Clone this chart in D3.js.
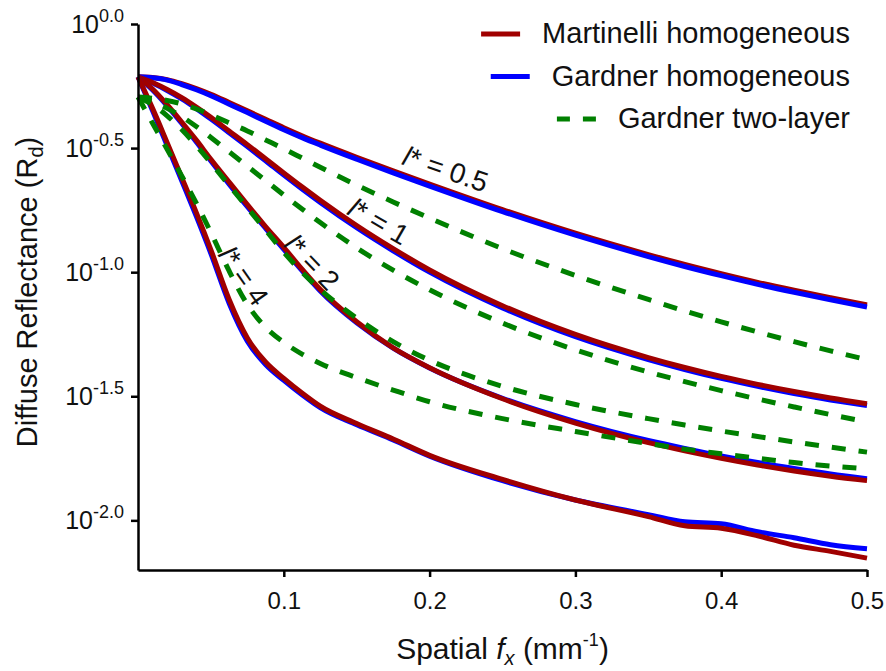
<!DOCTYPE html>
<html>
<head>
<meta charset="utf-8">
<script src="https://cdn.jsdelivr.net/npm/d3@7"></script>
<style>
  body { margin: 0; background: #fff; }
  svg { font-family: 'Liberation Sans', Arial, sans-serif; }
</style>
</head>
<body>
<svg width="886" height="671"></svg>
<script>
// spatial frequency samples (mm^-1)
const fx = [0, 0.01, 0.02, 0.03, 0.04, 0.05, 0.0625, 0.075, 0.0875, 0.1, 0.1125, 0.125, 0.15, 0.175, 0.2, 0.25, 0.3, 0.35, 0.375, 0.4, 0.425, 0.45, 0.475, 0.5]

// log10 of diffuse reflectance
const martinelli05 = [-0.213, -0.216, -0.224, -0.240, -0.260, -0.283, -0.316, -0.350, -0.384, -0.418, -0.450, -0.480, -0.537, -0.592, -0.645, -0.748, -0.843, -0.929, -0.969, -1.006, -1.041, -1.073, -1.103, -1.132]
const gardner05 = [-0.213, -0.217, -0.226, -0.244, -0.265, -0.289, -0.323, -0.357, -0.392, -0.426, -0.458, -0.488, -0.545, -0.600, -0.653, -0.756, -0.851, -0.937, -0.977, -1.014, -1.049, -1.081, -1.111, -1.140]
const twoLayer05 = [-0.294, -0.299, -0.308, -0.322, -0.342, -0.366, -0.398, -0.431, -0.467, -0.503, -0.540, -0.577, -0.649, -0.717, -0.782, -0.905, -1.013, -1.110, -1.156, -1.200, -1.241, -1.280, -1.317, -1.353]

const martinelli1 = [-0.213, -0.236, -0.264, -0.297, -0.335, -0.376, -0.431, -0.486, -0.543, -0.600, -0.656, -0.710, -0.812, -0.905, -0.991, -1.135, -1.251, -1.344, -1.384, -1.420, -1.452, -1.481, -1.507, -1.530]
const gardner1 = [-0.213, -0.238, -0.268, -0.302, -0.341, -0.383, -0.438, -0.494, -0.551, -0.609, -0.665, -0.719, -0.821, -0.914, -1.000, -1.144, -1.260, -1.352, -1.392, -1.428, -1.460, -1.489, -1.515, -1.537]
const twoLayer1 = [-0.294, -0.312, -0.340, -0.373, -0.413, -0.457, -0.515, -0.573, -0.631, -0.689, -0.745, -0.800, -0.902, -0.992, -1.071, -1.205, -1.313, -1.402, -1.441, -1.477, -1.511, -1.543, -1.574, -1.603]

const martinelli2 = [-0.213, -0.262, -0.325, -0.395, -0.468, -0.545, -0.637, -0.728, -0.816, -0.900, -0.988, -1.070, -1.200, -1.305, -1.385, -1.510, -1.608, -1.687, -1.720, -1.750, -1.777, -1.801, -1.822, -1.840]
const gardner2 = [-0.213, -0.266, -0.330, -0.401, -0.475, -0.552, -0.645, -0.736, -0.823, -0.908, -0.994, -1.076, -1.204, -1.306, -1.386, -1.508, -1.602, -1.678, -1.710, -1.740, -1.767, -1.791, -1.813, -1.832]
const twoLayer2 = [-0.294, -0.325, -0.370, -0.425, -0.490, -0.560, -0.650, -0.740, -0.830, -0.920, -1.000, -1.070, -1.185, -1.280, -1.355, -1.460, -1.533, -1.590, -1.616, -1.640, -1.662, -1.684, -1.705, -1.725]

const martinelli4 = [-0.213, -0.340, -0.478, -0.618, -0.760, -0.910, -1.110, -1.265, -1.362, -1.428, -1.487, -1.540, -1.610, -1.672, -1.738, -1.835, -1.918, -1.985, -2.022, -2.032, -2.062, -2.100, -2.125, -2.152]
const gardner4 = [-0.213, -0.350, -0.490, -0.632, -0.775, -0.925, -1.125, -1.278, -1.372, -1.436, -1.494, -1.546, -1.615, -1.676, -1.741, -1.840, -1.918, -1.977, -2.006, -2.014, -2.046, -2.070, -2.098, -2.114]
const twoLayer4 = [-0.294, -0.400, -0.505, -0.612, -0.722, -0.840, -0.995, -1.130, -1.222, -1.283, -1.330, -1.368, -1.425, -1.475, -1.522, -1.590, -1.642, -1.690, -1.713, -1.732, -1.750, -1.767, -1.781, -1.792]

const xTicks = [0.1, 0.2, 0.3, 0.4, 0.5]
const yTicks = [0, -0.5, -1, -1.5, -2]
const yTickLabels = ['0.0', '-0.5', '-1.0', '-1.5', '-2.0']

const legendLabels = ['Martinelli homogeneous', 'Gardner homogeneous', 'Gardner two-layer']

// curve annotations: l* value, anchor (fx, log10 Rd), rotation
const curveLabels = [
  {text: '0.5', fx: 0.211, v: -0.584, angle: 19},
  {text: '1', fx: 0.165, v: -0.795, angle: 30},
  {text: '2', fx: 0.1195, v: -0.960, angle: 46},
  {text: '4', fx: 0.0725, v: -1.015, angle: 55}
]

const models = {
  martinelli: {color: '#a00000', dash: null},
  gardner: {color: '#0000ff', dash: null},
  twoLayer: {color: '#008000', dash: '14,13'}
}

// draw order (blue on top only for l* = 0.5, as in the figure)
const series = [
  {model: 'martinelli', values: martinelli05},
  {model: 'gardner', values: gardner05},
  {model: 'gardner', values: gardner1},
  {model: 'martinelli', values: martinelli1},
  {model: 'gardner', values: gardner2},
  {model: 'martinelli', values: martinelli2},
  {model: 'gardner', values: gardner4},
  {model: 'martinelli', values: martinelli4},
  {model: 'twoLayer', values: twoLayer05},
  {model: 'twoLayer', values: twoLayer1},
  {model: 'twoLayer', values: twoLayer2},
  {model: 'twoLayer', values: twoLayer4}
]

const svg = d3.select('svg')
const margin = {top: 24, right: 19, bottom: 101, left: 138}
const width = 886 - margin.left - margin.right
const height = 671 - margin.top - margin.bottom
const g = svg.append('g').attr('transform', 'translate(' + margin.left + ',' + margin.top + ')')

const x = d3.scaleLinear().domain([0, 0.5]).range([0, width])
const y = d3.scaleLinear().domain([-2.2, 0]).range([height, 0])

// curves
const line = d3.line()
  .x((d, i) => x(fx[i]))
  .y(d => y(d))
  .curve(d3.curveMonotoneX)

g.append('g')
  .selectAll('path')
  .data(series)
  .enter().append('path')
    .attr('fill', 'none')
    .attr('stroke', d => models[d.model].color)
    .attr('stroke-width', 5)
    .attr('stroke-dasharray', d => models[d.model].dash)
    .attr('d', d => line(d.values))

// axes
const xAxis = g.append('g')
  .attr('transform', 'translate(0,' + height + ')')
  .call(d3.axisBottom(x).tickValues(xTicks).tickSize(7).tickSizeOuter(0).tickFormat(d3.format('.1f')))

const yAxis = g.append('g')
  .call(d3.axisLeft(y).tickValues(yTicks).tickSize(7).tickSizeOuter(0).tickFormat(''))

;[xAxis, yAxis].forEach(a => {
  a.select('.domain').attr('stroke', '#000').attr('stroke-width', 2.5)
  a.selectAll('.tick line').attr('stroke', '#000').attr('stroke-width', 2.5)
})

xAxis.selectAll('.tick text')
  .attr('font-size', 24)
  .attr('fill', '#111')
  .attr('y', 22)
  .attr('dy', '0.71em')

yAxis.selectAll('.tick').each(function (d, i) {
  const t = d3.select(this).append('text')
    .attr('x', -14)
    .attr('y', 8)
    .attr('text-anchor', 'end')
    .attr('fill', '#111')
    .attr('font-size', 25)
  t.append('tspan').text('10')
  t.append('tspan').attr('font-size', 18).attr('dy', -11).text(yTickLabels[i])
})

// axis titles
const xTitle = g.append('text')
  .attr('x', width / 2)
  .attr('y', height + 89)
  .attr('text-anchor', 'middle')
  .attr('font-size', 30)
  .attr('fill', '#111')
xTitle.append('tspan').text('Spatial ')
xTitle.append('tspan').attr('font-style', 'italic').text('f')
xTitle.append('tspan').attr('font-style', 'italic').attr('font-size', 20).attr('dy', 6).text('x')
xTitle.append('tspan').attr('dy', -6).text(' (mm')
xTitle.append('tspan').attr('font-size', 18).attr('dy', -13).text('-1')
xTitle.append('tspan').attr('dy', 13).text(')')

const yTitle = svg.append('text')
  .attr('transform', 'translate(37,' + (margin.top + height / 2 - 5) + ') rotate(-90)')
  .attr('text-anchor', 'middle')
  .attr('font-size', 29)
  .attr('fill', '#111')
yTitle.append('tspan').text('Diffuse Reflectance (R')
yTitle.append('tspan').attr('font-size', 20).attr('dy', 6).text('d')
yTitle.append('tspan').attr('dy', -6).text(')')

// curve labels
g.append('g')
  .selectAll('text')
  .data(curveLabels)
  .enter().append('text')
    .attr('transform', d => 'translate(' + x(d.fx) + ',' + y(d.v) + ') rotate(' + d.angle + ')')
    .attr('text-anchor', 'middle')
    .attr('dy', '0.35em')
    .attr('font-size', 28)
    .attr('fill', '#111')
    .each(function (d) {
      const t = d3.select(this)
      t.append('tspan').attr('font-style', 'italic').text('l')
      t.append('tspan').text('* = ' + d.text)
    })

// legend, right aligned
const legendModels = ['martinelli', 'gardner', 'twoLayer']
const legend = svg.append('g')
legendLabels.forEach((label, i) => {
  const row = legend.append('g').attr('transform', 'translate(850,' + (43 + i * 42.5) + ')')
  const txt = row.append('text')
    .attr('text-anchor', 'end')
    .attr('font-size', 29)
    .attr('fill', '#111')
    .text(label)
  const w = txt.node().getComputedTextLength()
  const m = models[legendModels[i]]
  row.append('line')
    .attr('x1', -w - 61).attr('x2', -w - 22)
    .attr('y1', -9).attr('y2', -9)
    .attr('stroke', m.color)
    .attr('stroke-width', 5)
    .attr('stroke-dasharray', m.dash ? '13,13' : null)
})
</script>
</body>
</html>
